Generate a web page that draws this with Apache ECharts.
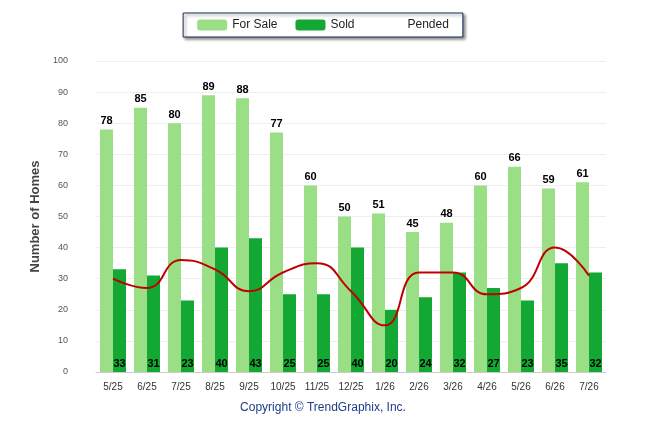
<!DOCTYPE html>
<html lang="en">
<head>
<meta charset="UTF-8">
<title>Homes</title>
<style>
  html, body { margin: 0; padding: 0; background: #fff; }
  #main { width: 646px; height: 434px; }
</style>
</head>
<body>
<div id="main"></div>
<script src="https://cdn.jsdelivr.net/npm/echarts@6/dist/echarts.min.js"></script>
<script>
const months = ['5/25','6/25','7/25','8/25','9/25','10/25','11/25','12/25','1/26','2/26','3/26','4/26','5/26','6/26','7/26'];
const forSale = [78, 85, 80, 89, 88, 77, 60, 50, 51, 45, 48, 60, 66, 59, 61];
const sold = [33, 31, 23, 40, 43, 25, 25, 40, 20, 24, 32, 27, 23, 35, 32];
const pended = [30, 27, 36, 33, 26, 32, 35, 26, 15, 32, 32, 25, 27, 40, 31];

const myChart = echarts.init(document.getElementById('main'));
const labelFont = { fontFamily: 'Arial, Liberation Sans', fontSize: 11, fontWeight: 'bold', color: '#000' };

myChart.setOption({
  animation: false,
  textStyle: { fontFamily: 'Arial, Liberation Sans' },
  legend: {
    top: 13, left: 'center',
    itemWidth: 30, itemHeight: 11, itemGap: 18,
    padding: [6, 14],
    borderColor: '#1a2a5a', borderWidth: 1, backgroundColor: '#fff',
    shadowColor: 'rgba(0,0,0,0.45)', shadowBlur: 3, shadowOffsetX: 2, shadowOffsetY: 2,
    textStyle: { fontSize: 12, color: '#222' },
    data: ['For Sale', 'Sold', { name: 'Pended', icon: 'path://M0,0h30v3h-30z', itemHeight: 3 }]
  },
  graphic: [{
    type: 'text', left: 'center', top: 402,
    style: { text: 'Copyright © TrendGraphix, Inc.', fontSize: 12, fill: '#1f3c88', fontFamily: 'Arial, Liberation Sans' }
  }],
  grid: { left: 96, right: 40, top: 61, bottom: 62 },
  xAxis: {
    type: 'category', data: months,
    axisLine: { lineStyle: { color: '#ccc' } },
    axisTick: { show: false },
    axisLabel: { fontSize: 10, color: '#333', margin: 10 }
  },
  yAxis: {
    type: 'value', min: 0, max: 100, interval: 10,
    name: 'Number of Homes', nameLocation: 'middle', nameGap: 52,
    nameTextStyle: { fontSize: 13, fontWeight: 'bold', color: '#444' },
    axisLabel: { fontSize: 9, color: '#555', margin: 28 },
    splitLine: { lineStyle: { color: '#eee' } }
  },
  series: [
    {
      name: 'For Sale', type: 'bar', data: forSale, barWidth: 13, barGap: '0%',
      itemStyle: { color: '#9ade85' },
      label: Object.assign({ show: true, position: 'top', distance: 3 }, labelFont)
    },
    {
      name: 'Sold', type: 'bar', data: sold, barWidth: 13,
      itemStyle: { color: '#12a833' },
      label: Object.assign({ show: true, position: 'insideBottom', distance: 3 }, labelFont)
    },
    {
      name: 'Pended', type: 'line', data: pended, smooth: 0.5,
      symbol: 'circle', symbolSize: 1, showSymbol: true,
      lineStyle: { color: '#c00000', width: 2 }, itemStyle: { color: '#c00000', opacity: 0 },
      label: Object.assign({ show: true, position: 'top', distance: 1 }, labelFont),
      z: 5
    }
  ]
});
</script>
</body>
</html>
